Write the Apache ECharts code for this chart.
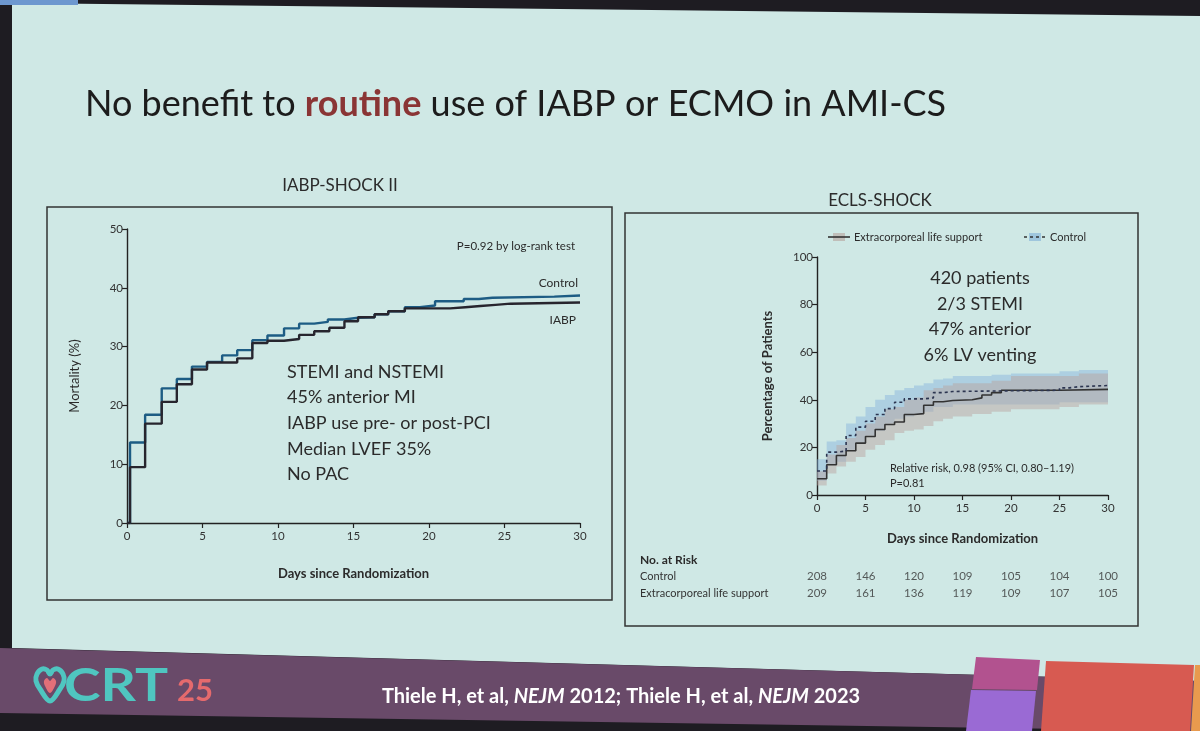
<!DOCTYPE html>
<html>
<head>
<meta charset="utf-8">
<script src="https://cdn.jsdelivr.net/npm/echarts/dist/echarts.min.js"></script>
<style>
  html, body { margin: 0; padding: 0; background: #1e1c22; }
  #chart { width: 1200px; height: 731px; }
</style>
</head>
<body>
<div id="chart"></div>
<script>
// IABP-SHOCK II (left) - Kaplan-Meier mortality
var iabpCtrlDays = [0, 0.2, 1.2, 2.3, 3.3, 4.3, 5.3, 6.3, 7.3, 8.3, 9.3, 10.4, 11.4, 12.4, 13.3, 14.4, 15.3, 16.4, 17.3, 18.4, 19.4, 20.4, 22.3, 23.3, 24.2, 28.3, 30];
var iabpCtrlVals = [0, 13.7, 18.4, 22.9, 24.5, 26.6, 27.4, 28.5, 29.4, 31.1, 31.9, 33.1, 33.9, 34.2, 34.6, 34.9, 35.0, 35.5, 36.0, 36.7, 37.0, 37.7, 38.1, 38.3, 38.5, 38.7, 38.7];
var iabpDays = [0, 0.2, 1.2, 2.3, 3.3, 4.3, 5.3, 7.3, 8.3, 9.3, 10.4, 11.4, 12.4, 13.4, 14.4, 15.3, 16.4, 17.3, 18.4, 21.4, 22.4, 23.4, 24.4, 25.4, 30];
var iabpVals = [0, 9.5, 16.9, 20.6, 23.6, 26.1, 27.3, 28.0, 30.6, 31.0, 31.3, 32.0, 32.6, 33.2, 34.3, 35.0, 35.5, 36.0, 36.5, 36.7, 36.9, 37.1, 37.3, 37.5, 37.5];

// ECLS-SHOCK (right)
var eclsDays = [0, 1, 2, 3, 4, 5, 6, 7, 8, 9, 10, 11, 12, 13, 14, 16, 17, 18, 19, 25, 30];
var eclsVals = [6.8, 12.7, 16.6, 18.6, 21.8, 24.6, 27.5, 29.6, 30.7, 33.8, 34.2, 37.7, 39.2, 39.7, 40.0, 40.8, 42.0, 43.0, 44.0, 44.4, 44.4];
var ctrlDays = [0, 1, 2, 3, 4, 5, 6, 7, 8, 9, 11, 12, 13, 14, 25, 26, 27, 30];
var ctrlVals = [10.1, 18.0, 18.5, 25.0, 28.5, 31.0, 33.8, 36.3, 39.0, 40.4, 40.8, 43.0, 43.5, 44.0, 45.0, 45.5, 46.0, 46.0];

// 95% CI bands
var bandDays = [0, 1, 2, 3, 4, 5, 6, 7, 8, 9, 10, 11, 12, 13, 14, 16, 18, 20, 25, 27, 30];
var eclsLo = [4, 9, 12, 14, 16, 19, 21, 23, 26, 27, 27.5, 29, 31, 32, 33, 34, 35, 36, 37, 38, 38.5];
var eclsHi = [10, 17, 21, 24, 27, 30, 33, 36, 37, 40, 41, 44, 45, 46, 47, 47, 48, 50, 50, 51, 51];
var ctrlLo = [6, 13, 14, 19, 22, 25, 27, 30, 32, 33, 34, 35, 37, 37, 38, 38, 38, 38, 39, 39, 39];
var ctrlHi = [15, 22.5, 23, 30, 33, 37, 40, 42, 44, 45, 46, 47, 48.5, 49, 50, 50, 50.5, 51, 52, 52.5, 52.5];

// number at risk
var riskDays = [0, 5, 10, 15, 20, 25, 30];
var riskCtrl = [208, 146, 120, 109, 105, 104, 100];
var riskEcls = [209, 161, 136, 119, 109, 107, 105];
var riskRows = ['Control', 'Extracorporeal life support'];

var F = 'Lato, "Open Sans", sans-serif';
var INK = '#2b2b2b';

function pairs(xs, ys) {
  return xs.map(function (x, i) { return [x, ys[i]]; });
}

function xAxis(gi, gap, show) {
  return {
    type: 'value', gridIndex: gi, min: 0, max: 30, interval: 5,
    show: show !== false,
    name: show === false ? '' : 'Days since Randomization',
    nameLocation: 'middle', nameGap: gap,
    nameTextStyle: { color: INK, fontSize: 13, fontWeight: 'bold', fontFamily: F },
    axisLine: { lineStyle: { color: '#222', width: 1.4 } },
    axisTick: { length: 5, lineStyle: { color: '#222', width: 1.2 } },
    axisLabel: { color: '#333', fontSize: 11.5, fontFamily: F, margin: 7 },
    splitLine: { show: false }
  };
}
function yAxis(gi, max, step, name, gap) {
  return {
    type: 'value', gridIndex: gi, min: 0, max: max, interval: step,
    name: name, nameLocation: 'middle', nameGap: gap, nameRotate: 90,
    nameTextStyle: { color: INK, fontSize: 13, fontWeight: gi === 1 ? 'bold' : 'normal', fontFamily: F },
    axisLine: { show: true, lineStyle: { color: '#222', width: 1.4 } },
    axisTick: { show: true, length: 5, lineStyle: { color: '#222', width: 1.2 } },
    axisLabel: { color: '#333', fontSize: 11.5, fontFamily: F, margin: 4 },
    splitLine: { show: false }
  };
}
function txt(x, y, s, size, opt) {
  opt = opt || {};
  return {
    type: 'text', x: x, y: y, z: 50, scaleX: opt.sx || 1,
    style: {
      text: s, fill: opt.color || INK, fontSize: size, fontFamily: opt.family || F,
      fontWeight: opt.weight || 'normal',
      align: opt.align || 'left', textAlign: opt.align || 'left',
      verticalAlign: 'middle', textVerticalAlign: 'middle'
    }
  };
}

// CI band drawn as one stepped polygon through the axis scales
function bandSeries(lo, hi, color) {
  return {
    type: 'custom', xAxisIndex: 1, yAxisIndex: 1, silent: true, z: 2,
    data: bandDays.map(function (d, i) { return [d, lo[i], hi[i]]; }),
    encode: { x: 0, y: [1, 2] },
    renderItem: function (params, api) {
      if (params.dataIndex !== 0) return;
      var top = [], bottom = [];
      for (var i = 0; i < bandDays.length - 1; i++) {
        top.push(api.coord([bandDays[i], hi[i]]), api.coord([bandDays[i + 1], hi[i]]));
        bottom.push(api.coord([bandDays[i], lo[i]]), api.coord([bandDays[i + 1], lo[i]]));
      }
      return { type: 'polygon', shape: { points: top.concat(bottom.reverse()) }, style: { fill: color } };
    }
  };
}

var chart = echarts.init(document.getElementById('chart'));

var graphics = [
  // slide
  { type: 'polygon', z: -10, shape: { points: [[12, 3], [1200, 16], [1200, 681], [12, 648]] }, style: { fill: '#cfe8e5' } },
  { type: 'rect', z: -9, shape: { x: 0, y: 0, width: 78, height: 5 }, style: { fill: '#6d97cf' } },
  // banner
  { type: 'polygon', z: -8, shape: { points: [[0, 648], [1200, 681], [1200, 731], [0, 713]] }, style: { fill: '#694a69' } },
  { type: 'polygon', z: -7, shape: { points: [[976, 657], [1040, 660], [1037, 690], [972, 689]] }, style: { fill: '#b2528f' } },
  { type: 'polygon', z: -7, shape: { points: [[971, 690], [1036, 691], [1032, 731], [966, 731]] }, style: { fill: '#9a6ad4' } },
  { type: 'polygon', z: -7, shape: { points: [[1046, 661], [1194, 665], [1190, 731], [1041, 731]] }, style: { fill: '#d75a51' } },
  { type: 'polygon', z: -7, shape: { points: [[1195, 665], [1200, 665], [1200, 731], [1191, 731]] }, style: { fill: '#e89a4e' } },
  // panel boxes
  { type: 'rect', z: -5, shape: { x: 47, y: 207, width: 565, height: 393 }, style: { fill: 'none', stroke: '#333', lineWidth: 1.5 } },
  { type: 'rect', z: -5, shape: { x: 625, y: 213, width: 513, height: 413 }, style: { fill: 'none', stroke: '#333', lineWidth: 1.5 } },
  // title
  {
    type: 'text', x: 85, y: 104, z: 50,
    style: {
      text: '{n|No benefit to }{r|routine}{n| use of IABP or ECMO in AMI-CS}',
      verticalAlign: 'middle', textVerticalAlign: 'middle',
      rich: {
        n: { fontSize: 36, fontFamily: F, fill: '#1c1c1c', color: '#1c1c1c' },
        r: { fontSize: 36, fontFamily: F, fontWeight: 'bold', fill: '#8a3535', color: '#8a3535' }
      }
    }
  },
  txt(340, 186, 'IABP-SHOCK II', 17, { align: 'center' }),
  txt(880, 201, 'ECLS-SHOCK', 17, { align: 'center' }),
  // left annotations
  txt(575, 246, 'P=0.92 by log-rank test', 11.5, { align: 'right' }),
  txt(578, 283, 'Control', 12, { align: 'right' }),
  txt(576, 320, 'IABP', 12, { align: 'right' }),
  txt(287, 372, 'STEMI and NSTEMI', 18),
  txt(287, 397, '45% anterior MI', 18),
  txt(287, 423, 'IABP use pre- or post-PCI', 18),
  txt(287, 449, 'Median LVEF 35%', 18),
  txt(287, 474, 'No PAC', 18),
  // right annotations
  txt(980, 278, '420 patients', 18, { align: 'center' }),
  txt(980, 304, '2/3 STEMI', 18, { align: 'center' }),
  txt(980, 329, '47% anterior', 18, { align: 'center' }),
  txt(980, 355, '6% LV venting', 18, { align: 'center' }),
  txt(890, 468, 'Relative risk, 0.98 (95% CI, 0.80\u20131.19)', 11),
  txt(890, 483, 'P=0.81', 11),
  txt(640, 560, 'No. at Risk', 12, { weight: 'bold' }),
  // right legend
  { type: 'line', z: 50, shape: { x1: 828, y1: 237, x2: 850, y2: 237 }, style: { stroke: '#333', lineWidth: 1.6 } },
  { type: 'rect', z: 49, shape: { x: 833, y: 233, width: 12, height: 8 }, style: { fill: 'rgba(180,155,150,0.55)' } },
  txt(854, 237, 'Extracorporeal life support', 11),
  { type: 'line', z: 50, shape: { x1: 1024, y1: 237, x2: 1046, y2: 237 }, style: { stroke: '#333', lineWidth: 1.6, lineDash: [3, 3] } },
  { type: 'rect', z: 49, shape: { x: 1029, y: 233, width: 12, height: 8 }, style: { fill: 'rgba(120,170,215,0.55)' } },
  txt(1050, 237, 'Control', 11),
  // banner logo and citation
  { type: 'polygon', z: 50, shape: { smooth: 0.35, points: [[50, 701], [40, 689], [36, 681], [37, 674], [42, 669], [47, 670], [50, 674], [53, 670], [58, 669], [63, 674], [64, 681], [60, 689]] },
    style: { fill: 'none', stroke: '#4fc6c0', lineWidth: 5 } },
  { type: 'polygon', z: 51, shape: { smooth: 0.35, points: [[50, 693], [45, 686], [44, 681], [47, 678], [50, 681], [53, 678], [56, 681], [55, 686]] },
    style: { fill: '#e26f78' } },
  txt(64, 686, 'CRT', 46, { weight: 'bold', color: '#4fc6c0', sx: 1.2 }),
  txt(177, 691, '25', 31, { weight: 'bold', color: '#e56a6d' }),
  {
    type: 'text', x: 621, y: 697, z: 50,
    style: {
      text: '{n|Thiele H, et al, }{i|NEJM}{n| 2012; Thiele H, et al, }{i|NEJM}{n| 2023}',
      align: 'center', textAlign: 'center', verticalAlign: 'middle', textVerticalAlign: 'middle',
      rich: {
        n: { fontSize: 20, fontFamily: F, fontWeight: 'bold', fill: '#ffffff', color: '#ffffff' },
        i: { fontSize: 20, fontFamily: F, fontWeight: 'bold', fontStyle: 'italic', fill: '#ffffff', color: '#ffffff' }
      }
    }
  }
];

var option = {
  animation: false,
  backgroundColor: '#1e1c22',
  graphic: graphics,
  grid: [
    { left: 127, top: 229, width: 453, height: 294 },
    { left: 817, top: 257, width: 291, height: 238 },
    { left: 817, top: 568, width: 291, height: 34 }
  ],
  xAxis: [xAxis(0, 44), xAxis(1, 37), xAxis(2, 0, false)],
  yAxis: [
    yAxis(0, 50, 10, 'Mortality (%)', 46),
    yAxis(1, 100, 20, 'Percentage of Patients', 43),
    {
      type: 'category', gridIndex: 2, data: riskRows, inverse: true,
      axisLine: { show: false }, axisTick: { show: false },
      axisLabel: { align: 'left', margin: 177, color: '#333', fontSize: 11, fontFamily: F }
    }
  ],
  series: [
    { name: 'Control', type: 'line', xAxisIndex: 0, yAxisIndex: 0, step: 'end', symbol: 'none',
      data: pairs(iabpCtrlDays, iabpCtrlVals), lineStyle: { color: '#1d5c84', width: 2.4 } },
    { name: 'IABP', type: 'line', xAxisIndex: 0, yAxisIndex: 0, step: 'end', symbol: 'none',
      data: pairs(iabpDays, iabpVals), lineStyle: { color: '#27252e', width: 2.4 } },

    bandSeries(ctrlLo, ctrlHi, 'rgba(130,178,220,0.45)'),
    bandSeries(eclsLo, eclsHi, 'rgba(185,160,155,0.45)'),

    { name: 'Extracorporeal life support', type: 'line', xAxisIndex: 1, yAxisIndex: 1, step: 'end', symbol: 'none',
      data: pairs(eclsDays, eclsVals), lineStyle: { color: '#333', width: 1.6 }, z: 5 },
    { name: 'Control ', type: 'line', xAxisIndex: 1, yAxisIndex: 1, step: 'end', symbol: 'none',
      data: pairs(ctrlDays, ctrlVals), lineStyle: { color: '#2c3550', width: 1.6, type: [3, 3] }, z: 5 },

    { type: 'scatter', xAxisIndex: 2, yAxisIndex: 2, symbolSize: 0,
      data: riskDays.map(function (d, i) { return [d, riskRows[0], riskCtrl[i]]; }),
      label: { show: true, position: 'inside', color: '#333', fontSize: 11.5, fontFamily: F,
        formatter: function (p) { return p.value[2]; } } },
    { type: 'scatter', xAxisIndex: 2, yAxisIndex: 2, symbolSize: 0,
      data: riskDays.map(function (d, i) { return [d, riskRows[1], riskEcls[i]]; }),
      label: { show: true, position: 'inside', color: '#333', fontSize: 11.5, fontFamily: F,
        formatter: function (p) { return p.value[2]; } } }
  ]
};

chart.setOption(option);
</script>
</body>
</html>
